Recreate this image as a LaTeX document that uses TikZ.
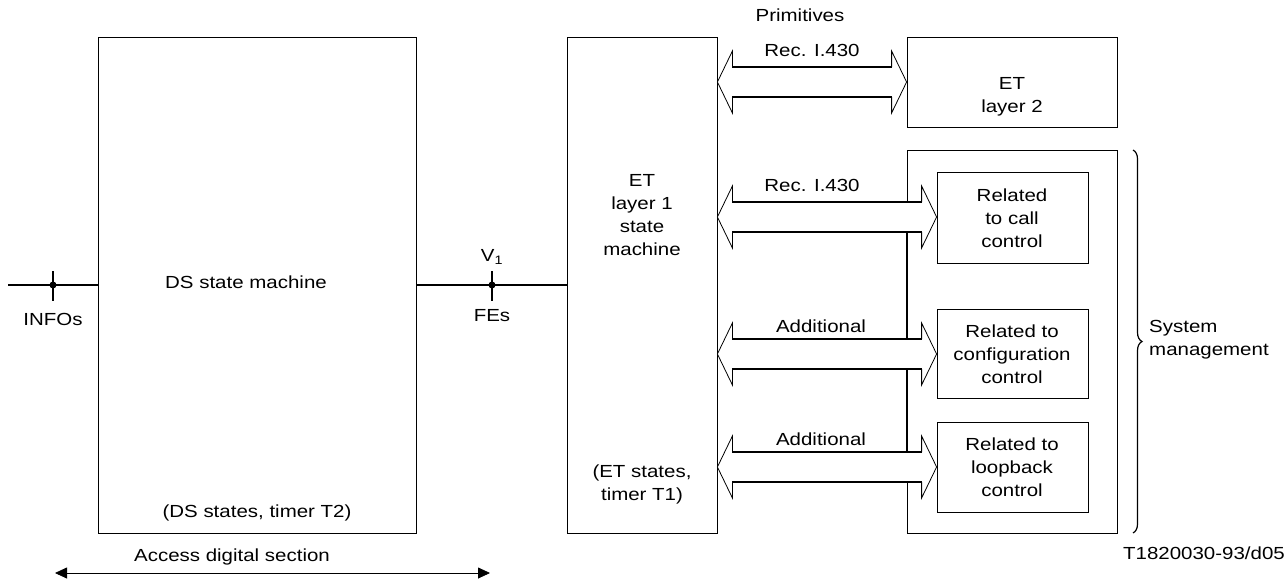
\documentclass[tikz,border=0pt]{standalone}
\usepackage{fontspec}
\setmainfont{Liberation Sans}[FakeStretch=1.17]
\usetikzlibrary{calc,arrows.meta,decorations.pathreplacing}

% wide double arrow between two points on one level
\newcommand{\widearrow}[2]{%
  \fill[white] (#1) -- ($(#1)+(15,-31)$) -- ($(#1)+(15,-15)$) -- ($(#2)+(-15,-15)$) -- ($(#2)+(-15,-31)$) -- (#2)
    -- ($(#2)+(-15,31)$) -- ($(#2)+(-15,15)$) -- ($(#1)+(15,15)$) -- ($(#1)+(15,31)$) -- cycle;
  \draw[head] ($(#1)+(15,-15)$) -- ($(#1)+(15,-31)$) -- (#1) -- ($(#1)+(15,31)$) -- ($(#1)+(15,15)$);
  \draw[head] ($(#2)+(-15,-15)$) -- ($(#2)+(-15,-31)$) -- (#2) -- ($(#2)+(-15,31)$) -- ($(#2)+(-15,15)$);
  \draw[shaft] ($(#1)+(15,-15)$) -- ($(#2)+(-15,-15)$);
  \draw[shaft] ($(#1)+(15,15)$) -- ($(#2)+(-15,15)$);
}

\begin{document}
\begin{tikzpicture}[x=1pt, y=-1pt,
    every node/.style={font=\fontsize{17.5}{23}\selectfont, inner sep=0pt, align=center},
    box/.style={draw, line width=0.8pt},
    head/.style={line width=0.8pt},
    shaft/.style={line width=1.6pt},
    bus/.style={line width=1.6pt},
    tick/.style={line width=1.6pt}]
  \useasboundingbox (0,0) rectangle (1287,582);

  % 1. boxes
  \node[box, minimum width=318, minimum height=496] (ds) at (257,285) {};
  \node[box, minimum width=150, minimum height=496] (et) at (642,285) {};
  \node[box, minimum width=210, minimum height=90] (l2) at (1012,82) {};
  \node[box, minimum width=210, minimum height=383] (sys) at (1012,341.5) {};
  \node[box, minimum width=151, minimum height=91] (r1) at (1012.5,217.5) {};
  \node[box, minimum width=151, minimum height=89] (r2) at (1012.5,353.5) {};
  \node[box, minimum width=151, minimum height=90] (r3) at (1012.5,467) {};

  % 2. box texts
  \node (dsname) at (246,282) {DS state machine};
  \node (dsstate) at (257,513) {(DS states, timer T2)};
  \node (etname) at (642,215) {ET\\layer 1\\state\\machine};
  \node (etstate) at (642,484) {(ET states,\\timer T1)};
  \node (l2name) at (1012,97) {ET\\layer 2};
  \node (r1name) at (1012,218) {Related\\to call\\control};
  \node (r2name) at (1012,354) {Related to\\configuration\\control};
  \node (r3name) at (1012,467) {Related to\\loopback\\control};

  % 3. line through the section, reference points
  \coordinate (in0) at (8,285);
  \coordinate (pinfo) at (53,285);
  \coordinate (pv1) at (492,285);
  \draw[bus] (in0) -- (ds.west);
  \draw[bus] (ds.east) -- (et.west);
  \draw[tick] ($(pinfo)+(0,-14)$) -- ($(pinfo)+(0,16)$);
  \draw[tick] ($(pv1)+(0,-14)$) -- ($(pv1)+(0,16)$);
  \fill (pinfo) circle (3.5);
  \fill (pv1) circle (3.5);
  \node (infos) at (53,319) {INFOs};
  \node (v1) at (492,257) {V\textsubscript{1}};
  \node (fes) at (492,316) {FEs};

  % 4. management bus and wide arrows
  \draw[bus] (sys.west |- 0,233) -- (sys.west |- 0,452);
  \coordinate (a1l) at (et.east |- 0,82);
  \coordinate (a1r) at (l2.west |- 0,82);
  \coordinate (a2l) at (et.east |- 0,217);
  \coordinate (a2r) at (r1.west |- 0,217);
  \coordinate (a3l) at (et.east |- 0,354);
  \coordinate (a3r) at (r2.west |- 0,354);
  \coordinate (a4l) at (et.east |- 0,467);
  \coordinate (a4r) at (r3.west |- 0,467);
  \widearrow{a1l}{a1r}
  \widearrow{a2l}{a2r}
  \widearrow{a3l}{a3r}
  \widearrow{a4l}{a4r}
  \node (prim) at (800,15) {Primitives};
  \node (rec1) at (812,50) {Rec. I.430};
  \node (rec2) at (812,185) {Rec. I.430};
  \node (add1) at (821,326) {Additional};
  \node (add2) at (821,439) {Additional};

  % 5. brace, section arrow, reference code
  \draw[decorate, decoration={brace, amplitude=9pt}, line width=1.2pt] (1133,150) -- (1133,533);
  \node[anchor=west, align=left] (sysman) at (1149,340) {System\\management};
  \coordinate (ad1) at (55,573);
  \coordinate (ad2) at (490,573);
  \draw[{Triangle[length=12pt,width=11pt]}-{Triangle[length=12pt,width=11pt]}, line width=0.8pt] (ad1) -- (ad2);
  \node (adsec) at (232,557) {Access digital section};
  \node[anchor=east] (code) at (1285,553) {T1820030-93/d05};
\end{tikzpicture}
\end{document}
